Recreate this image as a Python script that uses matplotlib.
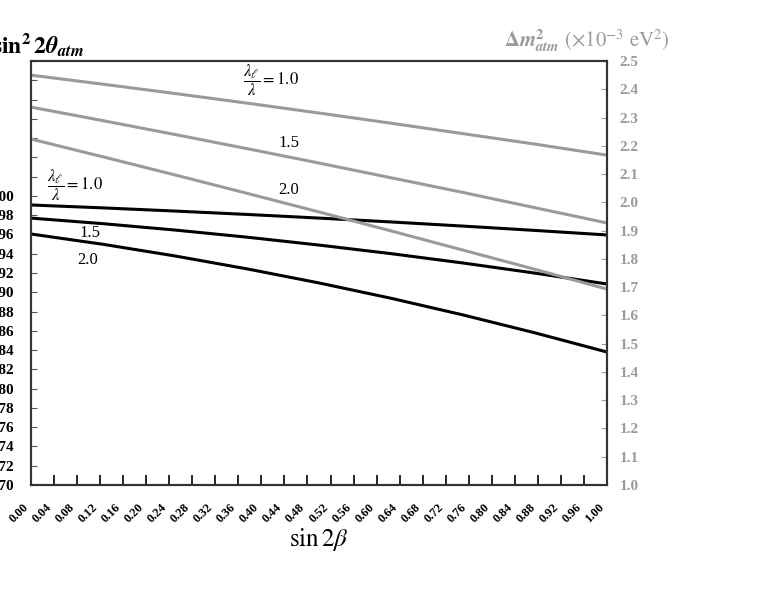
import numpy as np
import matplotlib
matplotlib.use("Agg")
import matplotlib.pyplot as plt

plt.rcParams['font.family'] = ['Liberation Serif', 'DejaVu Serif']
plt.rcParams['mathtext.fontset'] = 'stix'

# sin 2beta sample points
x = [0.0, 0.125, 0.25, 0.375, 0.5, 0.625, 0.75, 0.875, 1.0]

# sin^2 2theta_atm (left axis), lambda_l / lambda = 1.0, 1.5, 2.0
th_10 = [0.9906, 0.9876, 0.9843, 0.9808, 0.977, 0.973, 0.9687, 0.9642, 0.9595]
th_15 = [0.977, 0.9712, 0.9646, 0.9572, 0.949, 0.9401, 0.9304, 0.9199, 0.9086]
th_20 = [0.9605, 0.9498, 0.9377, 0.9243, 0.9097, 0.8938, 0.8765, 0.8579, 0.838]

# delta m^2_atm in 1e-3 eV^2 (right axis)
dm_10 = [2.450, 2.418, 2.385, 2.351, 2.316, 2.280, 2.243, 2.206, 2.167]
dm_15 = [2.337, 2.289, 2.240, 2.190, 2.139, 2.087, 2.035, 1.981, 1.927]
dm_20 = [2.224, 2.161, 2.097, 2.032, 1.966, 1.899, 1.831, 1.763, 1.693]

xticks = np.round(np.arange(0, 1.0001, 0.04), 2)
xtick_labels = ["%.2f" % v for v in xticks]
lticks = np.round(np.arange(0.70, 1.1401, 0.02), 2)
ltick_labels = ["%.2f" % v if v <= 1.0001 else "" for v in lticks]
rticks = np.round(np.arange(1.0, 2.5001, 0.1), 1)
rtick_labels = ["%.1f" % v for v in rticks]

gray = '#9a9a9a'
lw = 2.2

fig = plt.figure(figsize=(7.73, 5.93), dpi=100)
ax = fig.add_axes([0.0401, 0.1821, 0.7452, 0.715])
ax2 = ax.twinx()

ax.plot(x, th_10, color='black', lw=lw)
ax.plot(x, th_15, color='black', lw=lw)
ax.plot(x, th_20, color='black', lw=lw)

ax2.plot(x, dm_10, color=gray, lw=lw)
ax2.plot(x, dm_15, color=gray, lw=lw)
ax2.plot(x, dm_20, color=gray, lw=lw)

ax.set_xlim(0, 1)
ax.set_ylim(0.70, 1.14)
ax2.set_ylim(1.0, 2.5)

ax.set_xticks(xticks)
ax.set_xticklabels(xtick_labels, rotation=45, ha='right', fontsize=9, fontweight='bold')
ax.set_yticks(lticks)
ax.set_yticklabels(ltick_labels, fontsize=11, fontweight='bold')
ax2.set_yticks(rticks)
ax2.set_yticklabels(rtick_labels, fontsize=11, fontweight='bold', color=gray)

ax.tick_params(axis='x', direction='in', length=7, width=1.2, pad=12)
ax.tick_params(axis='y', direction='in', length=4, width=0.8, pad=12, color='#555555')
ax2.tick_params(axis='y', direction='in', length=4, width=0.8, pad=9, color=gray)

for a in (ax, ax2):
    for s in a.spines.values():
        s.set_linewidth(1.5)
        s.set_color('#333333')

ax.set_xlabel(r'$\sin 2\beta$', fontsize=18, labelpad=0)

# curve labels
ax2.text(0.368, 2.433, r'$\dfrac{\lambda_\ell}{\lambda}=1.0$', fontsize=12, va='center')
ax2.text(0.43, 2.21, '1.5', fontsize=12, va='center')
ax2.text(0.43, 2.043, '2.0', fontsize=12, va='center')
ax.text(0.028, 1.011, r'$\dfrac{\lambda_\ell}{\lambda}=1.0$', fontsize=12, va='center')
ax.text(0.085, 0.9615, '1.5', fontsize=12, va='center')
ax.text(0.08, 0.9335, '2.0', fontsize=12, va='center')

# axis titles
fig.text(-0.01, 0.924, r'$\mathbf{sin}^{\mathbf{2}}\,\mathbf{2}\boldsymbol{\theta}_{\boldsymbol{atm}}$',
         fontsize=17, va='center', ha='left')
fig.text(0.652, 0.932,
         r'$\boldsymbol{\Delta m}^{\mathbf{2}}_{\boldsymbol{atm}}\ \left(\times10^{-3}\ \mathrm{eV}^{2}\right)$',
         fontsize=15, va='center', ha='left', color=gray)

fig.savefig('out.png', dpi=100)
